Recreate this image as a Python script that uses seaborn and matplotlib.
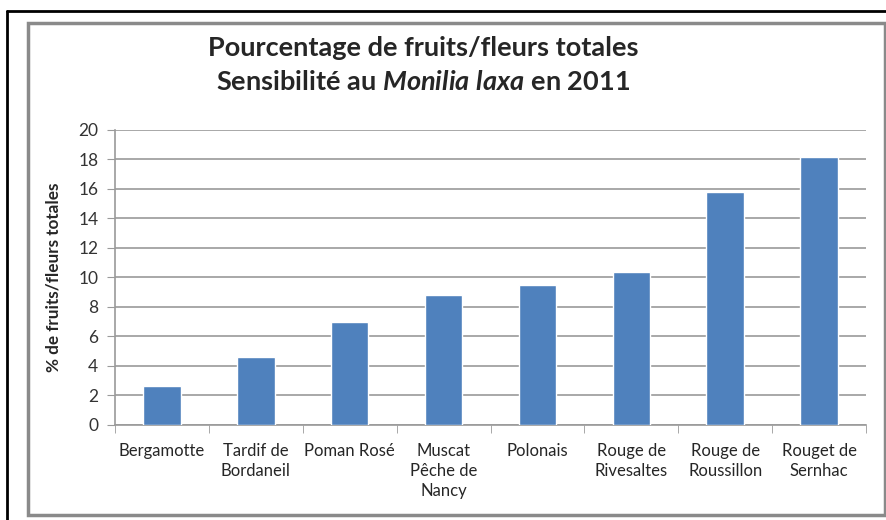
import matplotlib
matplotlib.use("Agg")
import matplotlib.pyplot as plt
import seaborn as sns
import pandas as pd
import numpy as np
from matplotlib.patches import Rectangle
from matplotlib.lines import Line2D

sns.set_style("white")
plt.rcParams["font.family"] = ["Lato", "DejaVu Sans"]
plt.rcParams["mathtext.fontset"] = "custom"
plt.rcParams["mathtext.it"] = "Lato:italic:bold"
plt.rcParams["mathtext.rm"] = "Lato:bold"

varietes = [
    "Bergamotte",
    "Tardif de\nBordaneil",
    "Poman Rosé",
    "Muscat\nPêche de\nNancy",
    "Polonais",
    "Rouge de\nRivesaltes",
    "Rouge de\nRoussillon",
    "Rouget de\nSernhac",
]
pourcentages = [2.65, 4.6, 6.95, 8.8, 9.5, 10.4, 15.8, 18.15]

df = pd.DataFrame({"variete": varietes, "pct": pourcentages})

fig = plt.figure(figsize=(8.87, 5.2), dpi=100)
ax = fig.add_axes([0.1297, 0.1827, 0.8466, 0.5673])

sns.barplot(data=df, x="variete", y="pct", color="#4F81BD", width=0.4,
            saturation=1, ax=ax, zorder=3)

ax.set_ylim(0, 20)
ax.set_xlim(-0.5, len(varietes) - 0.5)
ax.set_yticks(np.arange(0, 21, 2))
ax.yaxis.grid(True, color="#9A9A9A", linewidth=1.2, zorder=0)
ax.set_axisbelow(True)

for s in ["top", "right"]:
    ax.spines[s].set_visible(False)
ax.spines["left"].set_color("#9A9A9A")
ax.spines["bottom"].set_color("#9A9A9A")
ax.spines["left"].set_linewidth(1.2)
ax.spines["bottom"].set_linewidth(1.2)

ax.tick_params(axis="y", left=True, length=6, color="#9A9A9A", labelsize=12.5, pad=6,
               labelcolor="#333333")
ax.tick_params(axis="x", which="major", length=0, labelsize=12, pad=13)
ax.set_xticks(np.arange(-0.5, len(varietes)), minor=True)
ax.tick_params(axis="x", which="minor", bottom=True, length=6, color="#9A9A9A")
for lab in ax.get_xticklabels():
    lab.set_verticalalignment("top")
    lab.set_linespacing(1.3)

ax.set_xlabel("")
ax.set_ylabel("% de fruits/fleurs totales", fontsize=12.3, fontweight="bold", labelpad=12)

fig.text(0.477, 0.908, "Pourcentage de fruits/fleurs totales", ha="center", va="center",
         fontsize=19.5, fontweight="bold")
fig.text(0.477, 0.842, r"Sensibilité au $\mathit{Monilia\ laxa}$ en 2011", ha="center",
         va="center", fontsize=19.5, fontweight="bold")

# cadres
fig.patches.append(Rectangle((28 / 887, 1 - 515 / 520), (885 - 28) / 887, (515 - 23) / 520,
                             transform=fig.transFigure, fill=False, edgecolor="#8A8A8A",
                             linewidth=2.5))
fig.lines.append(Line2D([7 / 887, 7 / 887], [0, 1 - 11 / 520], transform=fig.transFigure,
                        color="black", linewidth=2))
fig.lines.append(Line2D([7 / 887, 1], [1 - 11 / 520, 1 - 11 / 520], transform=fig.transFigure,
                        color="black", linewidth=2))

fig.savefig("out.png", dpi=100)
